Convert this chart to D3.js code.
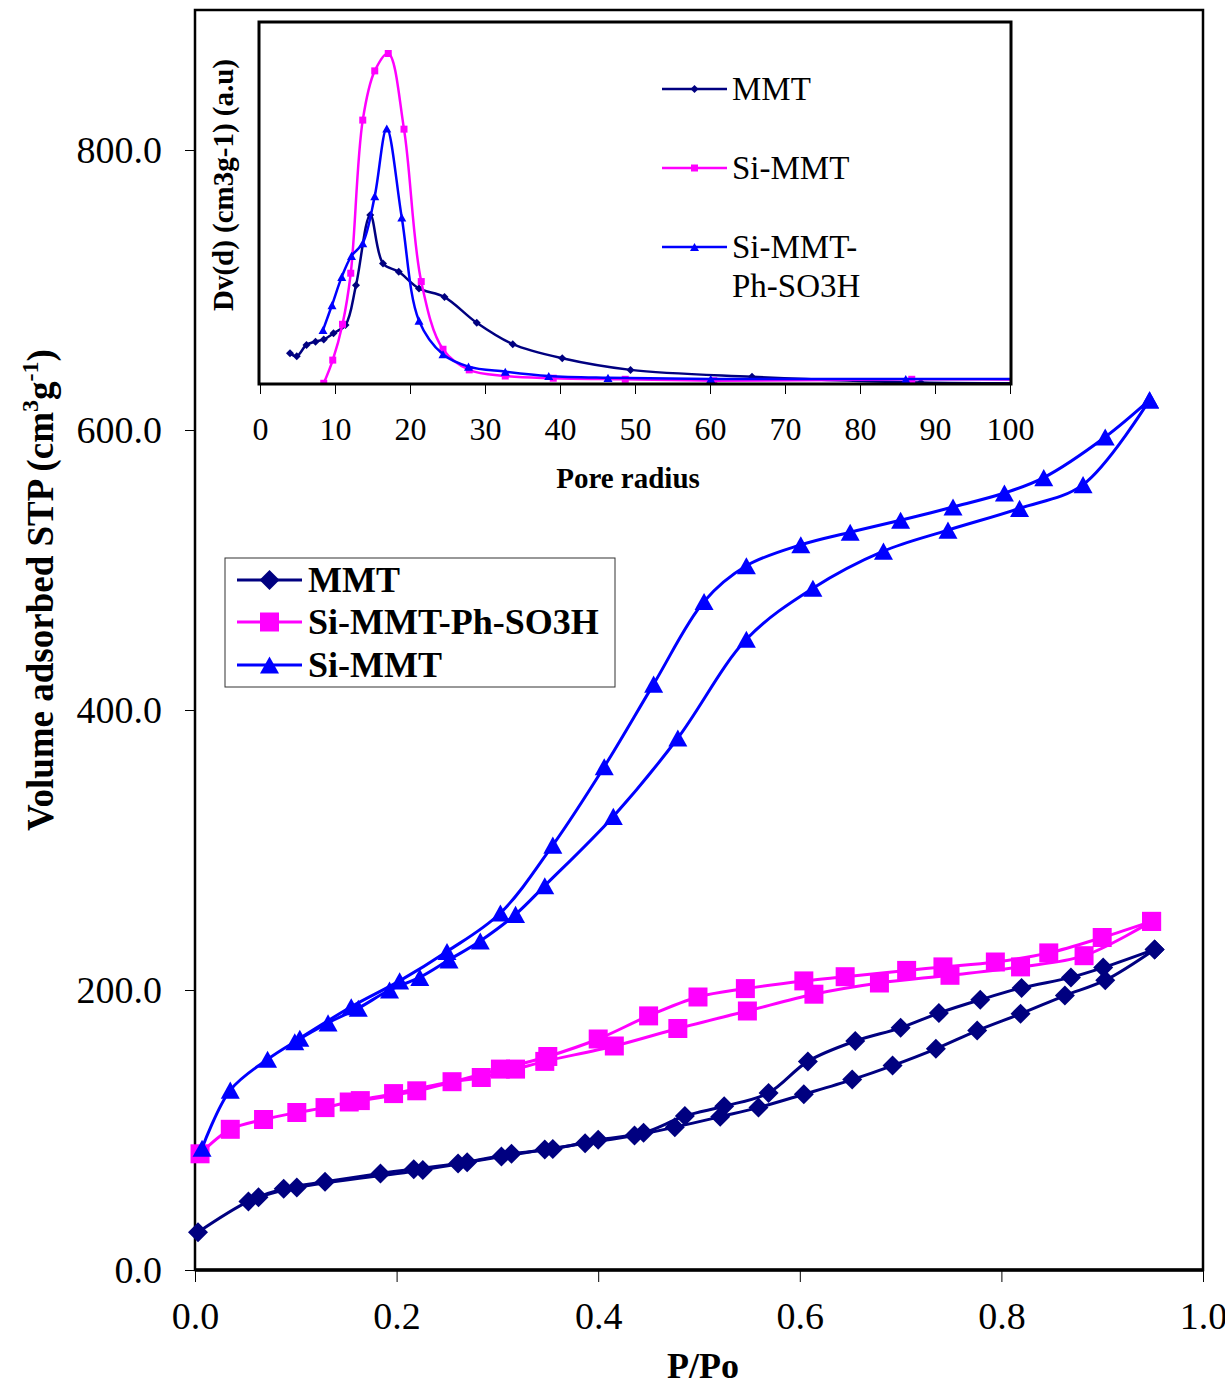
<!DOCTYPE html>
<html>
<head>
<meta charset="utf-8">
<script src="https://cdn.jsdelivr.net/npm/d3@7"></script>
<style>
body { margin: 0; background: #fff; }
text { font-family: "Liberation Serif", "Times New Roman", serif; fill: #000; }
</style>
</head>
<body>
<div id="chart"></div>
<script>
// isotherms: [P/Po, volume adsorbed], adsorption and desorption branches
var mmtAds = [[0.003,27],[0.053,49],[0.088,58],[0.129,63],[0.184,69],[0.217,72],[0.261,76],[0.304,81],[0.347,86],[0.387,90.5],[0.436,96],[0.476,102],[0.521,109.5],[0.559,116],[0.604,125.5],[0.652,136],[0.692,146],[0.735,158],[0.776,171],[0.819,183],[0.863,196],[0.903,207],[0.952,229]];
var mmtDes = [[0.952,229],[0.901,216],[0.869,209],[0.820,201.5],[0.779,193],[0.738,183.5],[0.700,173],[0.655,163.5],[0.608,149],[0.569,126.5],[0.525,117],[0.486,110],[0.445,98],[0.400,93],[0.355,86.5],[0.314,83],[0.270,77],[0.226,71.5],[0.101,59],[0.063,52]];
var phAds = [[0.005,83],[0.035,100.5],[0.068,107.5],[0.101,112.5],[0.129,116],[0.153,120],[0.197,126],[0.255,134.5],[0.284,137.5],[0.318,143.5],[0.347,149],[0.416,160],[0.479,172.5],[0.548,185],[0.614,197],[0.679,205],[0.749,210.5],[0.819,216.5],[0.882,224.5],[0.949,249]];
var phDes = [[0.949,249],[0.900,237.5],[0.847,226.5],[0.794,220],[0.742,216.5],[0.706,214],[0.645,209.5],[0.604,206.5],[0.546,201],[0.499,195],[0.450,181.5],[0.400,165],[0.350,152.5],[0.303,143.5],[0.220,128],[0.164,121]];
var siAds = [[0.007,87],[0.035,128.5],[0.072,150.5],[0.099,163],[0.132,176.5],[0.162,187],[0.193,200],[0.223,209],[0.252,221.5],[0.283,235],[0.318,254],[0.347,274.5],[0.415,324],[0.479,380],[0.547,450.5],[0.613,487],[0.683,513.5],[0.747,528.5],[0.818,544],[0.881,561],[0.947,621.5]];
var siDes = [[0.947,621.5],[0.903,595],[0.842,566],[0.803,555],[0.752,545],[0.700,535.5],[0.650,527],[0.601,518],[0.547,503],[0.505,477.5],[0.455,418.5],[0.406,359.5],[0.355,303.5],[0.303,255],[0.250,227.5],[0.203,206.5],[0.155,188],[0.104,165.5]];

// inset pore size distribution: [pore radius, Dv(d) a.u.]
var poreMmt = [[4.0,8.5],[4.9,7.7],[6.2,10.8],[7.4,11.7],[8.5,12.3],[9.8,14.0],[11.4,16.3],[12.8,27.3],[14.7,46.7],[16.4,33.3],[18.5,31.0],[21.2,26.4],[24.6,24.0],[28.9,16.9],[33.7,11.0],[40.3,7.1],[49.4,3.9],[65.6,2.0],[88.1,0.4],[110,0.2]];
var poreSi = [[8.5,0.2],[9.7,6.6],[11.0,16.5],[12.1,30.6],[13.7,72.9],[15.3,86.5],[17.1,91.3],[19.2,70.4],[21.5,28.3],[24.4,9.6],[27.9,3.9],[32.7,2.2],[39.1,1.6],[48.7,1.3],[60.5,0.9],[86.9,1.3],[110,1.2]];
var porePh = [[8.4,14.9],[9.6,21.8],[10.9,29.6],[12.2,35.4],[13.7,38.9],[15.3,51.9],[16.9,70.6],[18.9,46.0],[21.2,17.5],[24.4,8.2],[27.8,4.8],[32.7,3.4],[38.5,2.2],[46.4,1.7],[60.1,1.4],[86.1,1.4],[110,1.4]];

var mainTicksX = [0, 0.2, 0.4, 0.6, 0.8, 1.0],
    mainTicksY = [0, 200, 400, 600, 800],
    insetTicksX = [0,10,20,30,40,50,60,70,80,90,100];

var navy = "#000080", magenta = "#ff00ff", blue = "#0000ff";

var svg = d3.select("#chart").append("svg")
    .attr("width", 1225)
    .attr("height", 1384);

var x = d3.scaleLinear().domain([0, 1]).range([195, 1203]),
    y = d3.scaleLinear().domain([0, 900]).range([1270, 10]);

// marker shapes
function shape(type, s) {
    if (type == "diamond") return "M0," + (-s) + "L" + s + ",0L0," + s + "L" + (-s) + ",0Z";
    if (type == "square") return "M" + (-s) + "," + (-s) + "H" + s + "V" + s + "H" + (-s) + "Z";
    return "M0," + (-s * 0.9) + "L" + s + "," + (s * 0.9) + "L" + (-s) + "," + (s * 0.9) + "Z";
}

// main frame
svg.append("rect")
   .attr("x", 195).attr("y", 10)
   .attr("width", 1008).attr("height", 1260)
   .attr("fill", "none").attr("stroke", "#000").attr("stroke-width", 2.5);

var xAxis = d3.axisBottom(x).tickValues(mainTicksX).tickSize(12).tickFormat(d3.format(".1f")),
    yAxis = d3.axisLeft(y).tickValues(mainTicksY).tickSize(10).tickPadding(23).tickFormat(d3.format(".1f"));

var gx = svg.append("g").attr("transform", "translate(0,1270)").call(xAxis);
var gy = svg.append("g").attr("transform", "translate(195,0)").call(yAxis);
[gx, gy].forEach(function(g) {
    g.select(".domain").remove();
    g.selectAll("line").attr("stroke", "#000").attr("stroke-width", 1);
    g.selectAll("text").attr("font-size", 38).attr("font-family", "Liberation Serif, serif").attr("fill", "#000");
});
gx.selectAll("text").attr("y", 32).attr("dy", "0.71em");
gy.selectAll("text").attr("dy", "0.34em");

svg.append("line")
   .attr("x1", 195).attr("x2", 1203).attr("y1", 1270).attr("y2", 1270)
   .attr("stroke", "#000").attr("stroke-width", 3.5);

// axis titles
svg.append("text")
   .attr("x", 703).attr("y", 1378)
   .attr("text-anchor", "middle")
   .attr("font-size", 36).attr("font-weight", "bold")
   .text("P/Po");

var ytitle = svg.append("text")
   .attr("transform", "translate(53,590) rotate(-90)")
   .attr("text-anchor", "middle")
   .attr("font-size", 37).attr("font-weight", "bold");
ytitle.append("tspan").text("Volume adsorbed STP (cm");
ytitle.append("tspan").attr("font-size", 24).attr("dy", -15).text("3");
ytitle.append("tspan").attr("dy", 15).text("g");
ytitle.append("tspan").attr("font-size", 24).attr("dy", -15).text("-1");
ytitle.append("tspan").attr("dy", 15).text(")");

// main series
var line = d3.line().x(d => x(d[0])).y(d => y(d[1])).curve(d3.curveCatmullRom.alpha(0.5));

var series = [
    {branches: [mmtAds, mmtDes], color: navy, type: "diamond", size: 10},
    {branches: [phAds, phDes], color: magenta, type: "square", size: 9.5},
    {branches: [siAds, siDes], color: blue, type: "triangle", size: 9.5}
];

series.forEach(function(s) {
    var g = svg.append("g");
    s.branches.forEach(function(b) {
        g.append("path")
         .attr("d", line(b))
         .attr("fill", "none")
         .attr("stroke", s.color)
         .attr("stroke-width", 3);
    });
    s.branches.forEach(function(b) {
        g.selectAll(null)
         .data(b)
         .enter().append("path")
         .attr("transform", d => "translate(" + x(d[0]) + "," + y(d[1]) + ")")
         .attr("d", shape(s.type, s.size))
         .attr("fill", s.color);
    });
});

// main legend
var legendNames = ["MMT", "Si-MMT-Ph-SO3H", "Si-MMT"];
svg.append("rect")
   .attr("x", 225).attr("y", 558)
   .attr("width", 390).attr("height", 129)
   .attr("fill", "#fff").attr("stroke", "#333").attr("stroke-width", 1);

var leg = svg.selectAll(".leg")
   .data(series)
   .enter().append("g")
   .attr("class", "leg")
   .attr("transform", (d, i) => "translate(0," + [580, 622, 665][i] + ")");
leg.append("line")
   .attr("x1", 237).attr("x2", 302)
   .attr("stroke", d => d.color).attr("stroke-width", 3);
leg.append("path")
   .attr("transform", "translate(269.5,0)")
   .attr("d", d => shape(d.type, d.size))
   .attr("fill", d => d.color);
leg.append("text")
   .attr("x", 308).attr("y", 12)
   .attr("font-size", 36).attr("font-weight", "bold")
   .text((d, i) => legendNames[i]);

// ---- inset ----
var xi = d3.scaleLinear().domain([0, 100]).range([260, 1010]),
    yi = d3.scaleLinear().domain([0, 100]).range([384, 22]);

svg.append("rect")
   .attr("x", 259).attr("y", 22)
   .attr("width", 752).attr("height", 362)
   .attr("fill", "#fff");

svg.append("clipPath").attr("id", "insetClip")
   .append("rect")
   .attr("x", 259).attr("y", 22)
   .attr("width", 752).attr("height", 362);

var insetAxis = d3.axisBottom(xi).tickValues(insetTicksX).tickSize(10).tickFormat(d3.format("d"));
var gi = svg.append("g").attr("transform", "translate(0,384)").call(insetAxis);
gi.select(".domain").remove();
gi.selectAll("line").attr("stroke", "#000").attr("stroke-width", 1);
gi.selectAll("text")
  .attr("font-size", 32).attr("font-family", "Liberation Serif, serif").attr("fill", "#000")
  .attr("y", 33).attr("dy", "0.71em");

var lineI = d3.line().x(d => xi(d[0])).y(d => yi(d[1])).curve(d3.curveCatmullRom.alpha(0.5));

var insetSeries = [
    {data: poreMmt, color: navy, type: "diamond", size: 4, name: ["MMT"]},
    {data: poreSi, color: magenta, type: "square", size: 3.5, name: ["Si-MMT"]},
    {data: porePh, color: blue, type: "triangle", size: 4.5, name: ["Si-MMT-", "Ph-SO3H"]}
];

var gIn = svg.append("g").attr("clip-path", "url(#insetClip)");
insetSeries.forEach(function(s) {
    gIn.append("path")
       .attr("d", lineI(s.data))
       .attr("fill", "none")
       .attr("stroke", s.color)
       .attr("stroke-width", 2.5);
    gIn.selectAll(null)
       .data(s.data)
       .enter().append("path")
       .attr("transform", d => "translate(" + xi(d[0]) + "," + yi(d[1]) + ")")
       .attr("d", shape(s.type, s.size))
       .attr("fill", s.color);
});

svg.append("rect")
   .attr("x", 259).attr("y", 22)
   .attr("width", 752).attr("height", 362)
   .attr("fill", "none").attr("stroke", "#000").attr("stroke-width", 3);

svg.append("text")
   .attr("x", 628).attr("y", 488)
   .attr("text-anchor", "middle")
   .attr("font-size", 29).attr("font-weight", "bold")
   .text("Pore radius");

svg.append("text")
   .attr("transform", "translate(233,185) rotate(-90)")
   .attr("text-anchor", "middle")
   .attr("font-size", 29).attr("font-weight", "bold")
   .text("Dv(d) (cm3g-1) (a.u)");

// inset legend
var legI = svg.selectAll(".legI")
   .data(insetSeries)
   .enter().append("g")
   .attr("class", "legI")
   .attr("transform", (d, i) => "translate(0," + [89, 168, 247][i] + ")");
legI.append("line")
   .attr("x1", 662).attr("x2", 727)
   .attr("stroke", d => d.color).attr("stroke-width", 2.5);
legI.append("path")
   .attr("transform", "translate(694.5,0)")
   .attr("d", d => shape(d.type, d.size))
   .attr("fill", d => d.color);
legI.each(function(d) {
    var t = d3.select(this).append("text")
        .attr("x", 732).attr("y", 11)
        .attr("font-size", 33);
    d.name.forEach(function(n, k) {
        t.append("tspan").attr("x", 732).attr("dy", k ? 39 : 0).text(n);
    });
});
</script>
</body>
</html>
